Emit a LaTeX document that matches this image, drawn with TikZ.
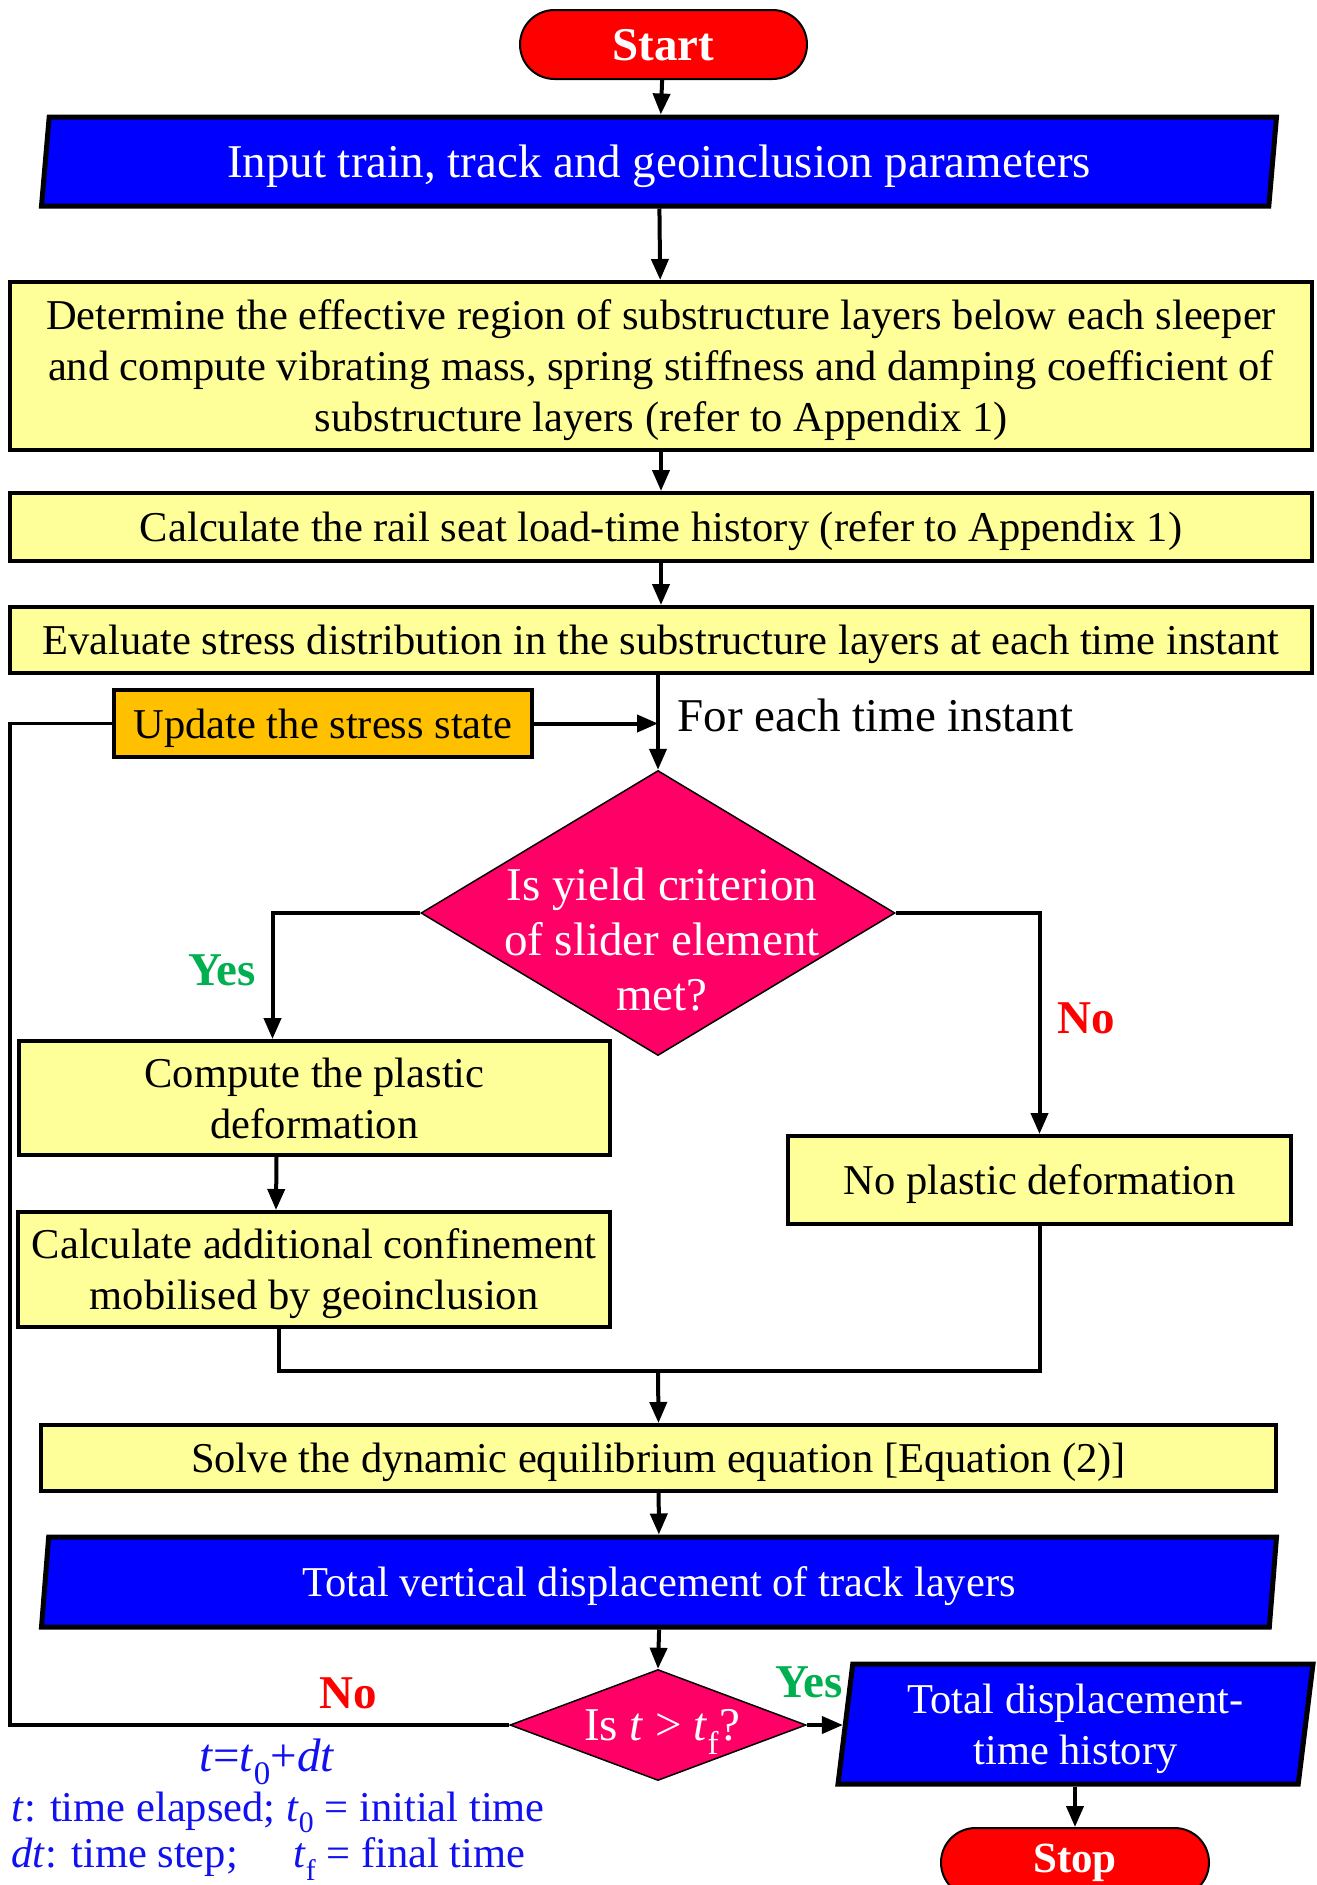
\documentclass[tikz,border=0pt]{standalone}
\usepackage{fontspec}
\setmainfont{Liberation Serif}
\usetikzlibrary{shapes.geometric,shapes.misc,arrows.meta}
\definecolor{boxyellow}{HTML}{FFFF99}
\definecolor{boxorange}{HTML}{FFC000}
\definecolor{diacol}{HTML}{FF0066}
\definecolor{yesgreen}{HTML}{00B050}
\definecolor{notered}{HTML}{FF0000}
\definecolor{noteblue}{HTML}{1010F0}
\begin{document}
\begin{tikzpicture}[x=1pt,y=-1pt,
  every node/.style={font=\fontsize{42.5}{51}\selectfont},
  big/.style={font=\fontsize{47}{55}\selectfont},
  box/.style={rectangle, draw, line width=4pt, fill=boxyellow, inner sep=0pt, align=center,
    text depth=0pt},
  para/.style={trapezium, draw, line width=5pt, fill=blue, text=white, inner sep=0pt,
    trapezium stretches body, align=center, text depth=-4pt},
  terminal/.style={rounded rectangle, draw, line width=2pt, fill=red, text=white,
    inner sep=0pt, minimum height=69pt},
  dia/.style={diamond, draw, line width=1.5pt, fill=diacol, inner sep=0pt},
  diatext/.style={text=white, align=center, big},
  conn/.style={line width=4pt},
  arr/.style={conn, -{Triangle[length=21pt,width=17pt]}},
  yeslab/.style={text=yesgreen, font=\fontsize{47}{52}\selectfont\bfseries},
  nolab/.style={text=notered, font=\fontsize{47}{52}\selectfont\bfseries},
  note/.style={text=noteblue, anchor=west},
]
\useasboundingbox (0,0) rectangle (1317,1885);

% nodes
\node[terminal, minimum width=287pt, text depth=-6pt, font=\fontsize{47}{52}\selectfont\bfseries] (start) at (663.5,44.5) {Start};
\node[para, big, trapezium left angle=76.7, trapezium right angle=103.3,
  minimum width=1235pt, minimum height=89pt] (input) at (659,161.5)
  {Input train, track and geoinclusion parameters};
\node[box, minimum width=1302pt, minimum height=168pt] (det) at (661,366)
  {Determine the effective region of substructure layers below each sleeper\\
   and compute vibrating mass, spring stiffness and damping coefficient of\\
   substructure layers (refer to Appendix 1)};
\node[box, minimum width=1302pt, minimum height=68pt] (rail) at (661,527)
  {Calculate the rail seat load-time history (refer to Appendix 1)};
\node[box, minimum width=1302pt, minimum height=66pt] (eval) at (661,640)
  {Evaluate stress distribution in the substructure layers at each time instant};
\node[box, fill=boxorange, minimum width=418pt, minimum height=67pt] (upd) at (323,723.5)
  {Update the stress state};
\node[anchor=west, big] (foreach) at (674,715) {For each time instant};

\node[dia, minimum width=474pt, minimum height=285pt] (d1) at (658,913) {};
\node[diatext] (d1t) at (662,940) {Is yield criterion\\of slider element\\met?};

\node[box, minimum width=591pt, minimum height=114pt] (comp) at (314.5,1098)
  {Compute the plastic\\deformation};
\node[box, minimum width=592pt, minimum height=115pt] (calc) at (314,1269.5)
  {Calculate additional confinement\\mobilised by geoinclusion};
\node[box, minimum width=503pt, minimum height=88pt] (nopl) at (1039.5,1180)
  {No plastic deformation};
\node[box, minimum width=1235pt, minimum height=66pt] (solve) at (658.5,1458)
  {Solve the dynamic equilibrium equation [Equation (2)]};
\node[para, trapezium left angle=76.5, trapezium right angle=103.5,
  minimum width=1235pt, minimum height=90pt] (tvert) at (659,1582)
  {Total vertical displacement of track layers};

\node[dia, minimum width=296pt, minimum height=111pt] (d2) at (658,1725) {};
\node[diatext] (d2t) at (662,1732) {Is \textit{t} > \textit{t}\textsubscript{f}?};

\node[para, text depth=-9pt, trapezium left angle=79.6, trapezium right angle=100.4,
  minimum width=475pt, minimum height=120pt] (tdisp) at (1075.5,1724)
  {Total displacement-\\time history};
\node[terminal, minimum width=268pt, font=\fontsize{43}{48}\selectfont\bfseries] (stop) at (1075,1862.5) {Stop};

% labels
\node[yeslab] (yes1) at (222,970) {Yes};
\node[nolab] (no1) at (1086,1018) {No};
\node[nolab] (no2) at (348,1693) {No};
\node[yeslab] (yes2) at (809,1682) {Yes};

\node[text=noteblue, big] (eq) at (267,1762) {\textit{t}=\textit{t}\textsubscript{0}+\textit{dt}};
\node[note] (n1) at (8,1812) {\textit{t}: time elapsed; \textit{t}\textsubscript{0} = initial time};
\node[note] (n2) at (8,1859) {\textit{dt}: time step;\hspace{1.3em}\textit{t}\textsubscript{f} = final time};

% connectors
\draw[arr] (start) -- (input);
\draw[arr] (input) -- (det);
\draw[arr] (det) -- (rail);
\draw[arr] (rail) -- (eval);
\draw[arr] (d1.north |- eval.south) -- (d1.north);
\draw[arr] (upd.east) -- (d1.north |- upd.east);
\draw[arr] (d1.west) -| ([xshift=-42pt]comp.north);
\draw[arr] (d1.east) -| (nopl.north);
\draw[arr] ([xshift=-38pt]comp.south) -- ([xshift=-38pt]calc.north);
\coordinate (m) at (658,1371);
\draw[conn] ([xshift=-35pt]calc.south) |- (m) -| (nopl.south);
\draw[arr] (m) -- (solve.north);
\draw[arr] (solve) -- (tvert);
\draw[arr] (tvert.south) -- (d2.north);
\coordinate (lc) at (10,1725);
\draw[line width=3.5pt] (d2.west) -- (lc) |- (upd.west);
\draw[arr] (d2.east) -- (d2.east -| tdisp.west);
\draw[arr] (stop.north |- tdisp.south) -- (stop.north);
\end{tikzpicture}
\end{document}
